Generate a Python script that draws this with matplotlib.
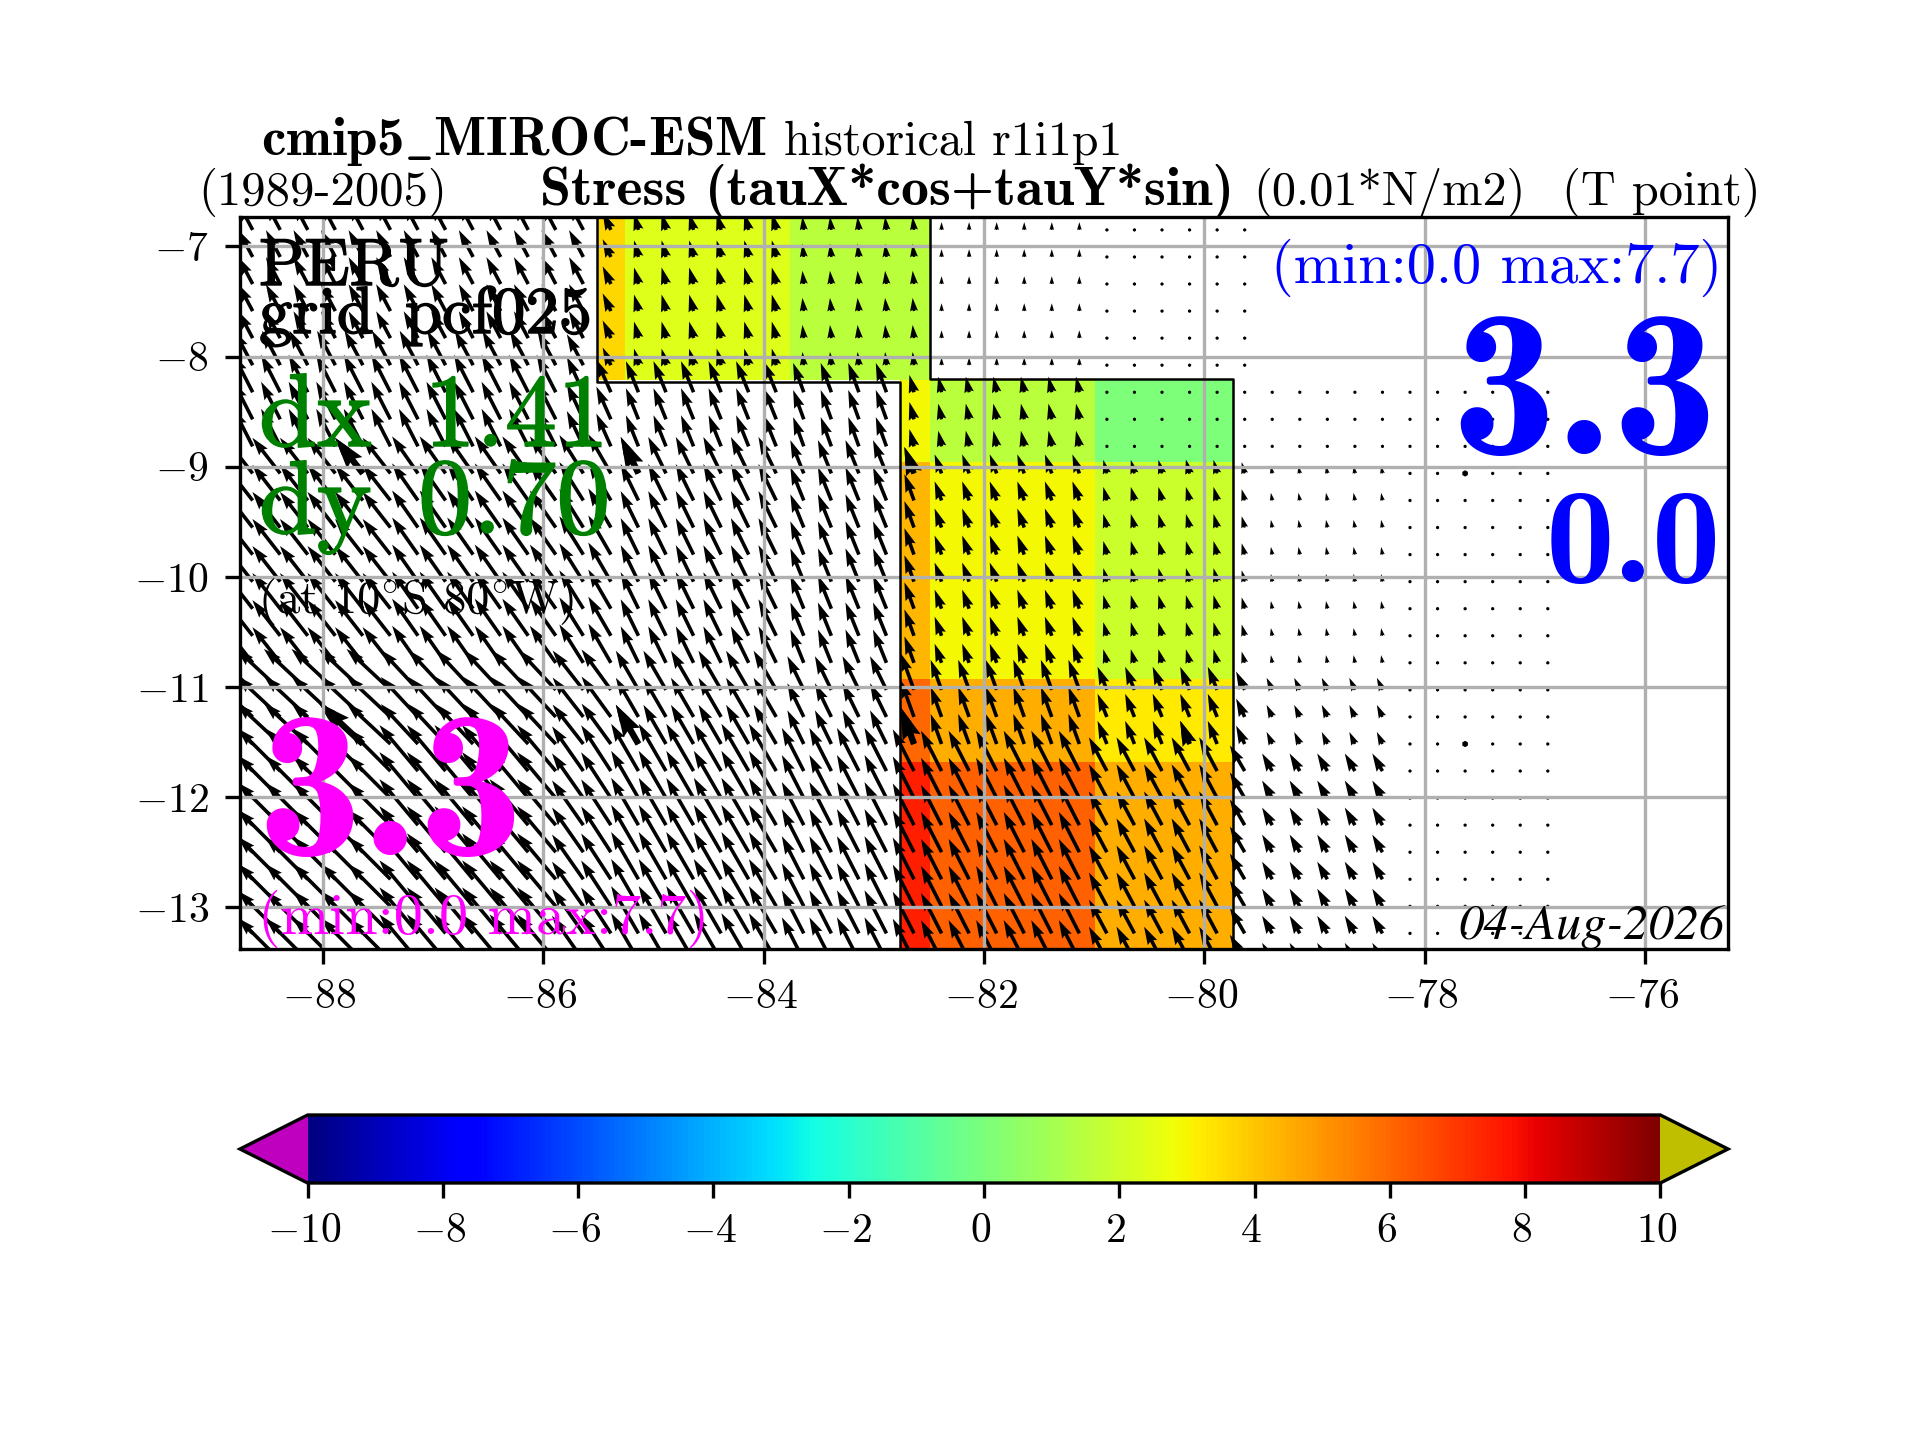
import numpy as np
import matplotlib
matplotlib.use('Agg')
import matplotlib.pyplot as plt
import matplotlib.patheffects as pe
from matplotlib.transforms import ScaledTranslation

plt.rcParams['font.family'] = 'cmr10'
plt.rcParams['mathtext.fontset'] = 'cm'
plt.rcParams['axes.formatter.use_mathtext'] = True
plt.rcParams['axes.unicode_minus'] = True

# colored cells (tauX*cos+tauY*sin), nan = no data
cell_lon_edges = [-85.51, -85.26, -83.76, -82.76, -82.49, -80.99, -79.74]
cell_lat_edges = [-6.6, -8.21, -8.96, -10.93, -11.68, -13.5]
cell_values = [
    [3.60, 2.35, 1.55, 1.55, np.nan, np.nan],
    [np.nan, np.nan, np.nan, 2.95, 1.55, 0.00],
    [np.nan, np.nan, np.nan, 4.30, 2.95, 1.90],
    [np.nan, np.nan, np.nan, 5.95, 4.50, 3.25],
    [np.nan, np.nan, np.nan, 7.55, 6.10, 4.50],
]

# black outline around the colored cells
outline_west_lon = [-85.51, -85.51, -82.76, -82.76]
outline_west_lat = [-6.6, -8.23, -8.23, -13.5]
outline_east_lon = [-82.49, -82.49, -79.74, -79.74]
outline_east_lat = [-6.6, -8.2, -8.2, -13.5]

# wind stress arrows, one value per coarse block
block_lon_edges = [-88.76, -87.26, -85.76, -85.51, -85.26, -83.76, -82.76,
                   -82.51, -81.01, -79.76, -79.51, -78.26, -76.76]
block_lat_edges = [-6.6, -7.97, -8.22, -8.96, -10.93, -11.68, -13.6]
block_speed = [
    [3.9, 3.9, 3.9, 2.5, 2.2, 1.7, 1.7, 1.0, 0.05, 0.05, np.nan, np.nan],
    [5.0, 5.0, 4.5, 2.5, 2.2, 1.7, 1.7, 1.0, 0.05, 0.05, np.nan, np.nan],
    [5.4, 5.4, 5.0, 4.6, 4.3, 4.0, 2.3, 2.05, 0.05, 0.05, 0.05, 0.05],
    [5.8, 5.8, 5.8, 5.8, 5.2, 4.6, 3.6, 2.6, 1.8, 1.5, 1.0, 0.05],
    [7.7, 7.0, 6.4, 6.4, 5.8, 4.8, 5.0, 4.1, 3.2, 2.6, 1.7, 0.05],
    [7.7, 7.7, 7.0, 7.0, 7.0, 6.2, 6.0, 5.8, 4.9, 3.8, 2.6, 0.05],
]
# degrees west of north
block_angle = [
    [28, 28, 28, 25, 15, 6, 6, 0, 0, 0, 0, 0],
    [28, 28, 28, 25, 15, 6, 6, 0, 0, 0, 0, 0],
    [27, 27, 25, 24, 22, 20, 15, 12, 0, 0, 0, 0],
    [38, 35, 32, 30, 26, 22, 20, 20, 15, 15, 10, 0],
    [47, 43, 38, 36, 30, 26, 20, 20, 22, 25, 25, 0],
    [45, 40, 35, 33, 30, 27, 27, 27, 28, 30, 30, 0],
]

x_ticks = [-88, -86, -84, -82, -80, -78, -76]
y_ticks = [-7, -8, -9, -10, -11, -12, -13]
cbar_ticks = [-10, -8, -6, -4, -2, 0, 2, 4, 6, 8, 10]

# quarter degree grid of the arrows
lon_points = -88.635 + 0.25 * np.arange(48)
lat_points = -6.85 - 0.2457 * np.arange(28)

col = np.digitize(lon_points, block_lon_edges) - 1
row = np.digitize(lat_points, block_lat_edges) - 1
speed = np.array(block_speed)[np.ix_(row, col)]
angle = np.radians(np.array(block_angle, dtype=float))[np.ix_(row, col)]
u = -speed * np.sin(angle)
v = speed * np.cos(angle)
lon2d, lat2d = np.meshgrid(lon_points, lat_points)

fig = plt.figure(figsize=(6.4, 4.8), dpi=300)
ax = fig.add_axes([0.125, 1 - 949 / 1440, 0.775, 732.3 / 1440])

cmap = plt.get_cmap('jet').copy()
cmap.set_under('#BF00BF')
cmap.set_over('#BFBF00')
mesh = ax.pcolormesh(cell_lon_edges, cell_lat_edges, np.ma.masked_invalid(cell_values),
                     cmap=cmap, vmin=-10, vmax=10)

ax.plot(outline_west_lon, outline_west_lat, color='k', lw=0.6)
ax.plot(outline_east_lon, outline_east_lat, color='k', lw=0.6)

arrow_scale = 1 / 7.8
ax.quiver(lon2d, lat2d, u, v, angles='uv', scale_units='dots', scale=arrow_scale,
          units='dots', width=3.6)
# every tenth point gets a fatter arrow
ax.quiver(lon2d[9::10, 4::10], lat2d[9::10, 4::10], u[9::10, 4::10], v[9::10, 4::10],
          angles='uv', scale_units='dots', scale=arrow_scale, units='dots', width=6.4)

ax.set_xlim(-88.75, -75.25)
ax.set_ylim(-13.38, -6.73)
ax.set_xticks(x_ticks)
ax.set_yticks(y_ticks)
ax.grid(True)

cax = fig.add_axes([0.125, 1 - 1183 / 1440, 0.775, 68 / 1440])
cbar = fig.colorbar(mesh, cax=cax, orientation='horizontal', extend='both', ticks=cbar_ticks)

# tick labels sit a bit further left in the original
for lab in ax.get_xticklabels() + cax.get_xticklabels():
    lab.set_transform(lab.get_transform() + ScaledTranslation(-3.5 / 300, 0, fig.dpi_scale_trans))
for lab in ax.get_yticklabels():
    lab.set_transform(lab.get_transform() + ScaledTranslation(-2 / 300, 0, fig.dpi_scale_trans))


def put(x, y, txt, **kw):
    # x, y in pixels of the final picture
    return fig.text(x / 1920, 1 - y / 1440, txt, **kw)


heavy = [pe.withStroke(linewidth=0.35, foreground='black')]
heavy_green = [pe.withStroke(linewidth=0.35, foreground='green')]

# header lines
put(261, 155, 'cmip5$\\_$MIROC-ESM', family='cmb10', fontsize=13.2)
put(784, 155, 'historical r1i1p1', fontsize=11.5)
put(198, 205, '(1989-2005)', fontsize=11.7)
put(540, 205, 'Stress (tauX*cos+tauY*sin)', family='cmb10', fontsize=13.4)
put(1253, 205, '(0.01*N/m2)', fontsize=11.6)
put(1562, 205, '(T point)', fontsize=11.6)

# left column
put(259, 285, 'PERU', fontsize=16, path_effects=heavy)
put(259, 333, 'grid', fontsize=16, path_effects=heavy)
put(405, 333, 'pcf', fontsize=16, path_effects=heavy)
put(492, 333, '025', fontsize=16, path_effects=heavy)
put(259, 446, 'dx', color='green', fontsize=25, path_effects=heavy_green)
put(424, 446, '1.41', color='green', fontsize=25, path_effects=heavy_green)
put(259, 533, 'dy', color='green', fontsize=25, path_effects=heavy_green)
put(418, 533, '0.70', color='green', fontsize=26, path_effects=heavy_green)
put(258, 613, '(at 10$^{\\circ}$S 80$^{\\circ}$W)', fontsize=11.2)
put(257, 855, '3.3', family='cmb10', color='magenta', fontsize=50)
put(258, 934, '(min:0.0 max:7.7)', color='magenta', fontsize=14)

# right column
put(1722, 283, '(min:0.0 max:7.7)', color='blue', fontsize=14, ha='right')
put(1717, 454, '3.3', family='cmb10', color='blue', fontsize=50, ha='right')
put(1721, 582, '0.0', family='cmb10', color='blue', fontsize=33, ha='right')
put(1725, 939, '04-Aug-2026', family='STIXGeneral', style='italic', fontsize=12.1, ha='right')

fig.savefig('out.png', dpi=300)
